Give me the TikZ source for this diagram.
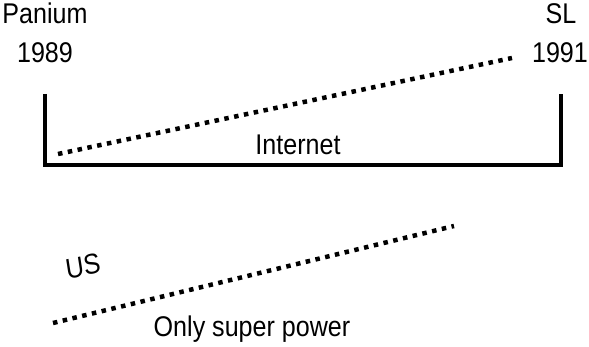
\documentclass[tikz,border=0pt]{standalone}
\usepackage{fontspec}
\setmainfont{Liberation Sans}
\usepackage{tikz}
\usetikzlibrary{arrows.meta}

\begin{document}
\begin{tikzpicture}[x=1pt,y=-1pt,
  lbl/.style={inner sep=0pt,anchor=base,xscale=0.88,font=\fontsize{28.5}{32}\selectfont},
  dots/.style={line width=4.5pt,dash pattern=on 4.5pt off 5.5pt},
  bracket/.style={line width=4.5pt}]
\useasboundingbox (0,0) rectangle (589,347);
\node[lbl](pan) at (45,24){Panium};
\node[lbl](y89) at (45,63){1989};
\node[lbl](sl) at (561,24){SL};
\node[lbl](y91) at (560,63){1991};
\node[lbl](net) at (298,155){Internet};
\node[lbl](osp) at (252,336){Only super power};
\node[lbl,anchor=center,rotate=10](us) at (83,266){US};
\coordinate (a) at (45,94);
\coordinate (b) at (45,165);
\coordinate (c) at (561,165);
\coordinate (d) at (561,94);
\draw[bracket](a)--(b)--(c)--(d);
\coordinate (p) at (58,154);
\coordinate (q) at (512,58);
\draw[dots](p)--(q);
\coordinate (r) at (53,323);
\coordinate (s) at (454,226);
\draw[dots](r)--(s);
\end{tikzpicture}
\end{document}
